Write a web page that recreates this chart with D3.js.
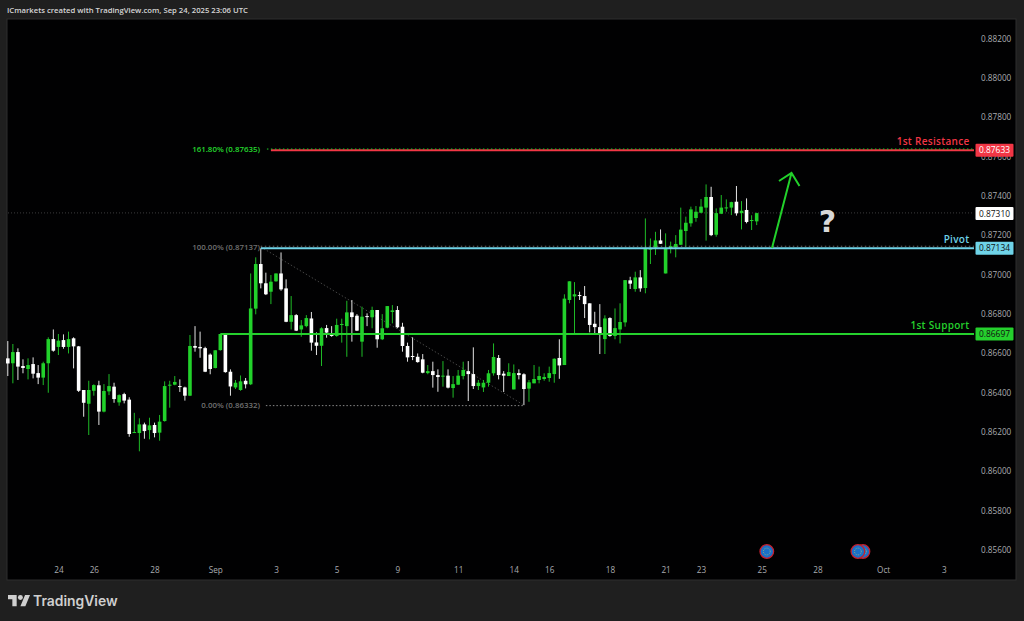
<!DOCTYPE html>
<html>
<head>
<meta charset="utf-8">
<script src="https://cdn.jsdelivr.net/npm/d3@7"></script>
<style>
  html, body { margin: 0; padding: 0; background: #1f1f1f; overflow: hidden; }
  text { font-family: "Open Sans", Roboto, sans-serif; }
</style>
</head>
<body>
<div id="chart"></div>
<script>
// candles, one per 4 hours, oldest first
var opens = [0.86570,0.86545,0.86602,0.86531,0.86516,0.86541,0.86495,0.86472,0.86545,0.86668,
  0.86628,0.86663,0.86628,0.86672,0.86631,0.86409,0.86339,0.86405,0.86433,0.86299,
  0.86402,0.86426,0.86346,0.86388,0.86360,0.86192,0.86190,0.86234,0.86205,0.86231,
  0.86192,0.86251,0.86431,0.86436,0.86429,0.86422,0.86380,0.86633,0.86628,0.86622,
  0.86589,0.86521,0.86612,0.86692,0.86502,0.86422,0.86409,0.86456,0.86438,0.86823,
  0.87050,0.86952,0.86909,0.86962,0.87002,0.86926,0.86756,0.86790,0.86717,0.86734,
  0.86773,0.86651,0.86634,0.86724,0.86695,0.86684,0.86741,0.86734,0.86804,0.86787,
  0.86655,0.86785,0.86779,0.86816,0.86667,0.86726,0.86806,0.86816,0.86731,0.86633,
  0.86582,0.86578,0.86565,0.86495,0.86505,0.86485,0.86477,0.86482,0.86419,0.86436,
  0.86480,0.86505,0.86490,0.86429,0.86422,0.86446,0.86494,0.86572,0.86492,0.86480,
  0.86412,0.86495,0.86489,0.86416,0.86443,0.86460,0.86465,0.86470,0.86490,0.86572,
  0.86536,0.86867,0.86885,0.86892,0.86887,0.86850,0.86746,0.86729,0.86668,0.86775,
  0.86684,0.86717,0.86753,0.86967,0.86923,0.86982,0.86928,0.87125,0.87133,0.87170,
  0.87002,0.87128,0.87135,0.87148,0.87218,0.87257,0.87284,0.87311,0.87337,0.87391,
  0.87199,0.87306,0.87335,0.87337,0.87367,0.87309,0.87325,0.87270,0.87267];
var highs = [0.86658,0.86643,0.86621,0.86565,0.86570,0.86575,0.86536,0.86553,0.86677,0.86717,
  0.86694,0.86692,0.86706,0.86677,0.86633,0.86409,0.86456,0.86438,0.86456,0.86439,
  0.86490,0.86446,0.86387,0.86395,0.86372,0.86293,0.86265,0.86243,0.86268,0.86243,
  0.86282,0.86453,0.86456,0.86480,0.86463,0.86426,0.86689,0.86734,0.86706,0.86629,
  0.86595,0.86612,0.86694,0.86692,0.86514,0.86460,0.86483,0.86470,0.87002,0.87084,
  0.87130,0.87006,0.86994,0.87002,0.87109,0.86972,0.86887,0.86795,0.86765,0.86790,
  0.86806,0.86702,0.86728,0.86740,0.86734,0.86772,0.86772,0.86863,0.86867,0.86795,
  0.86833,0.86799,0.86833,0.86816,0.86795,0.86836,0.86841,0.86836,0.86751,0.86650,
  0.86677,0.86595,0.86592,0.86536,0.86553,0.86514,0.86556,0.86514,0.86480,0.86511,
  0.86553,0.86556,0.86626,0.86460,0.86460,0.86511,0.86646,0.86587,0.86505,0.86545,
  0.86539,0.86514,0.86494,0.86460,0.86536,0.86528,0.86494,0.86528,0.86570,0.86667,
  0.86896,0.86962,0.86958,0.86909,0.86938,0.86850,0.86807,0.86846,0.86789,0.86779,
  0.86824,0.86850,0.86968,0.86985,0.87011,0.87019,0.87282,0.87180,0.87214,0.87226,
  0.87206,0.87164,0.87197,0.87337,0.87291,0.87342,0.87345,0.87381,0.87455,0.87443,
  0.87333,0.87401,0.87379,0.87367,0.87447,0.87370,0.87384,0.87298,0.87311];
var lows = [0.86480,0.86443,0.86460,0.86494,0.86463,0.86468,0.86439,0.86434,0.86395,0.86604,
  0.86587,0.86619,0.86595,0.86519,0.86399,0.86273,0.86180,0.86380,0.86231,0.86295,
  0.86383,0.86344,0.86329,0.86341,0.86171,0.86190,0.86097,0.86161,0.86158,0.86168,
  0.86151,0.86248,0.86319,0.86433,0.86399,0.86355,0.86378,0.86604,0.86573,0.86500,
  0.86489,0.86519,0.86609,0.86497,0.86380,0.86414,0.86405,0.86417,0.86434,0.86794,
  0.86926,0.86892,0.86846,0.86960,0.86914,0.86754,0.86717,0.86709,0.86680,0.86728,
  0.86609,0.86587,0.86531,0.86675,0.86680,0.86680,0.86650,0.86578,0.86655,0.86709,
  0.86578,0.86734,0.86723,0.86624,0.86663,0.86723,0.86748,0.86723,0.86604,0.86553,
  0.86561,0.86548,0.86494,0.86489,0.86421,0.86400,0.86426,0.86417,0.86370,0.86434,
  0.86463,0.86353,0.86414,0.86409,0.86399,0.86426,0.86482,0.86463,0.86399,0.86480,
  0.86412,0.86463,0.86332,0.86349,0.86443,0.86443,0.86456,0.86451,0.86446,0.86466,
  0.86536,0.86850,0.86694,0.86867,0.86775,0.86702,0.86689,0.86592,0.86592,0.86680,
  0.86667,0.86646,0.86731,0.86923,0.86909,0.86909,0.86901,0.87050,0.87096,0.87152,
  0.87002,0.87104,0.87084,0.87147,0.87138,0.87240,0.87265,0.87308,0.87169,0.87192,
  0.87189,0.87304,0.87316,0.87299,0.87296,0.87226,0.87257,0.87223,0.87248];
var closes = [0.86544,0.86602,0.86528,0.86521,0.86536,0.86492,0.86472,0.86545,0.86668,0.86609,
  0.86660,0.86628,0.86668,0.86631,0.86405,0.86344,0.86409,0.86434,0.86299,0.86404,
  0.86429,0.86363,0.86383,0.86355,0.86185,0.86195,0.86234,0.86200,0.86229,0.86190,
  0.86248,0.86429,0.86436,0.86450,0.86424,0.86380,0.86633,0.86624,0.86621,0.86502,
  0.86516,0.86611,0.86694,0.86500,0.86427,0.86446,0.86453,0.86438,0.86824,0.87050,
  0.86952,0.86896,0.86960,0.87002,0.86921,0.86756,0.86790,0.86711,0.86738,0.86775,
  0.86650,0.86634,0.86723,0.86701,0.86684,0.86740,0.86745,0.86804,0.86780,0.86711,
  0.86782,0.86780,0.86816,0.86667,0.86723,0.86836,0.86814,0.86728,0.86633,0.86575,
  0.86577,0.86551,0.86497,0.86505,0.86485,0.86475,0.86482,0.86421,0.86439,0.86482,
  0.86511,0.86490,0.86429,0.86446,0.86446,0.86494,0.86577,0.86485,0.86482,0.86500,
  0.86495,0.86485,0.86414,0.86448,0.86465,0.86480,0.86475,0.86495,0.86568,0.86534,
  0.86874,0.86962,0.86896,0.86889,0.86846,0.86740,0.86729,0.86695,0.86773,0.86684,
  0.86724,0.86755,0.86968,0.86950,0.86982,0.86926,0.87128,0.87128,0.87170,0.87153,
  0.87128,0.87141,0.87152,0.87225,0.87260,0.87328,0.87316,0.87342,0.87391,0.87197,
  0.87309,0.87337,0.87338,0.87365,0.87308,0.87321,0.87264,0.87274,0.87309];

// price and time axis labels
var priceTicks = [0.882,0.880,0.878,0.876,0.874,0.872,0.870,0.868,0.866,0.864,0.862,0.860,0.858,0.856];
var timeTickBars = [10,17,29,41,53,65,77,89,100,107,119,130,137,149,160,173,185];
var timeTickLabels = ["24","26","28","Sep","3","5","9","11","14","16","18","21","23","25","28","Oct","3"];

// drawn levels
var levelNames = ["1st Resistance","Pivot","1st Support"];
var levelPrices = [0.87633,0.87134,0.86697];
var levelStarts = [52,50,42];
var levelColors = ["#f23645","#6fd3e8","#25d02d"];

var fibLabels = ["161.80% (0.87635)","100.00% (0.87137)","0.00% (0.86332)"];
var fibPrices = [0.87635,0.87137,0.86332];
var lastPrice = 0.87310;
var eventBars = [150,169,168];

var width = 1024, height = 621;
var panel = {left: 7, right: 1016, top: 19, bottom: 580};
var plotRight = 974;
var lineNudge = 0.7; // levels and labels sit a touch below the candle scale
var green = "#22d12b";

var x = d3.scaleLinear().domain([0,185]).range([7.8,943.9]);
var y = d3.scaleLinear().domain([0.882,0.856]).range([38,549]);

var svg = d3.select("#chart").append("svg")
    .attr("width", width)
    .attr("height", height)
    .style("display", "block");

svg.append("rect")
    .attr("width", width).attr("height", height)
    .attr("fill", "#1f1f1f");

svg.append("rect")
    .attr("x", panel.left).attr("y", panel.top)
    .attr("width", panel.right - panel.left)
    .attr("height", panel.bottom - panel.top)
    .attr("fill", "#010102")
    .attr("stroke", "#2e2e2e");

svg.append("text")
    .attr("x", 7).attr("y", 13)
    .attr("fill", "#d6d6d6")
    .style("font-size", "7.7px")
    .style("font-weight", 600)
    .text("ICmarkets created with TradingView.com, Sep 24, 2025 23:06 UTC");

// axes
var yAxis = svg.append("g")
    .attr("transform", "translate(981," + lineNudge + ")")
    .call(d3.axisRight(y).tickValues(priceTicks).tickFormat(d3.format(".5f")).tickSize(0).tickPadding(0));
var xAxis = svg.append("g")
    .attr("transform", "translate(0,567)")
    .call(d3.axisBottom(x).tickValues(timeTickBars)
        .tickFormat(function(d, i) { return timeTickLabels[i]; }).tickSize(0).tickPadding(0));
[yAxis, xAxis].forEach(function(a) {
    a.select(".domain").remove();
    a.selectAll("text")
        .attr("fill", "#a9abb0")
        .style("font-family", "'Open Sans', sans-serif")
        .style("font-size", "8.2px");
});

// last price dotted line
svg.append("line")
    .attr("x1", panel.left + 1).attr("x2", plotRight)
    .attr("y1", y(lastPrice)).attr("y2", y(lastPrice))
    .attr("stroke", "#555")
    .attr("stroke-width", 0.7)
    .attr("stroke-dasharray", "1,2");

// fib tool, behind the candles
svg.append("line")
    .attr("x1", x(50)).attr("y1", y(fibPrices[1]))
    .attr("x2", x(102)).attr("y2", y(fibPrices[2]))
    .attr("stroke", "#555")
    .attr("stroke-width", 0.8)
    .attr("stroke-dasharray", "1.5,2");
svg.append("line")
    .attr("x1", x(51)).attr("x2", x(102))
    .attr("y1", y(fibPrices[2]) + 0.5).attr("y2", y(fibPrices[2]) + 0.5)
    .attr("stroke", "#888")
    .attr("stroke-dasharray", "1.5,2");

svg.selectAll(".fib-label")
    .data(fibLabels)
    .enter().append("text")
    .attr("class", "fib-label")
    .attr("x", 260)
    .attr("y", function(d, i) { return y(fibPrices[i]) + 3.2; })
    .attr("text-anchor", "end")
    .attr("fill", function(d, i) { return i == 0 ? "#25d92e" : "#707070"; })
    .style("font-size", "7.9px")
    .style("font-weight", 600)
    .text(function(d) { return d; });

// candles
var bars = d3.range(opens.length);
var candle = function(i) { return closes[i] >= opens[i] ? green : "#ffffff"; };

svg.append("g").selectAll("line")
    .data(bars)
    .enter().append("line")
    .attr("x1", function(i) { return x(i); })
    .attr("x2", function(i) { return x(i); })
    .attr("y1", function(i) { return y(highs[i]); })
    .attr("y2", function(i) { return y(lows[i]); })
    .attr("stroke", candle)
    .attr("stroke-width", 0.9);

svg.append("g").selectAll("rect")
    .data(bars)
    .enter().append("rect")
    .attr("x", function(i) { return x(i) - 1.8; })
    .attr("width", 3.6)
    .attr("y", function(i) { return y(Math.max(opens[i], closes[i])); })
    .attr("height", function(i) { return Math.max(1, Math.abs(y(opens[i]) - y(closes[i]))); })
    .attr("fill", candle);

// levels over the candles
svg.append("g").selectAll("line")
    .data(levelPrices)
    .enter().append("line")
    .attr("x1", function(d, i) { return x(levelStarts[i]); })
    .attr("x2", plotRight)
    .attr("y1", function(d) { return y(d) + lineNudge; })
    .attr("y2", function(d) { return y(d) + lineNudge; })
    .attr("stroke", function(d, i) { return levelColors[i]; })
    .attr("stroke-width", 2);

// fib dots sitting on the red and blue levels
svg.append("line")
    .attr("x1", x(52) - 4).attr("x2", plotRight)
    .attr("y1", y(fibPrices[0])).attr("y2", y(fibPrices[0]))
    .attr("stroke", green)
    .attr("stroke-width", 1)
    .attr("stroke-dasharray", "1.5,2.5");
svg.append("line")
    .attr("x1", x(50)).attr("x2", plotRight)
    .attr("y1", y(fibPrices[1]) - 0.7).attr("y2", y(fibPrices[1]) - 0.7)
    .attr("stroke", "#888")
    .attr("stroke-width", 0.8)
    .attr("stroke-dasharray", "1.5,2.5");

svg.selectAll(".level-name")
    .data(levelNames)
    .enter().append("text")
    .attr("class", "level-name")
    .attr("x", 969.5)
    .attr("y", function(d, i) { return y(levelPrices[i]) - 4.5; })
    .attr("text-anchor", "end")
    .attr("fill", function(d, i) { return levelColors[i]; })
    .style("font-size", "10px")
    .style("font-weight", 600)
    .style("letter-spacing", "0.3px")
    .text(function(d) { return d; });

// price tags on the axis
var tagPrices = levelPrices.concat([lastPrice]);
var tagColors = levelColors.concat(["#ffffff"]);
var tags = svg.append("g").selectAll("g")
    .data(tagPrices)
    .enter().append("g")
    .attr("transform", function(d) { return "translate(975.5," + (y(d) + lineNudge) + ")"; });
tags.append("rect")
    .attr("y", -6.5).attr("width", 38).attr("height", 13).attr("rx", 1)
    .attr("fill", function(d, i) { return tagColors[i]; });
tags.append("text")
    .attr("x", 19).attr("y", 3)
    .attr("text-anchor", "middle")
    .attr("fill", function(d, i) { return i == 0 ? "#ffffff" : "#111"; })
    .style("font-size", "8.4px")
    .text(function(d) { return d3.format(".5f")(d); });

// arrow and question mark
svg.append("path")
    .attr("d", "M772,248L791.5,173M779,181L791.5,173L799.5,186")
    .attr("fill", "none")
    .attr("stroke", green)
    .attr("stroke-width", 2);
svg.append("text")
    .attr("x", 827.5).attr("y", 232)
    .attr("text-anchor", "middle")
    .attr("fill", "#d8d8d8")
    .style("font-family", "'DejaVu Sans', sans-serif")
    .style("font-size", "30px")
    .style("font-weight", 700)
    .text("?");

// economic event markers under the candles
var events = svg.append("g").selectAll("g")
    .data(eventBars)
    .enter().append("g")
    .attr("transform", function(d) { return "translate(" + x(d) + ",551.5)"; });
events.append("circle")
    .attr("r", 6.8)
    .attr("fill", "#1b70c8")
    .attr("stroke", "#c4202f")
    .attr("stroke-width", 1.3);
events.append("circle")
    .attr("r", 3.4)
    .attr("fill", "none")
    .attr("stroke", "#c9c85a")
    .attr("stroke-width", 0.8)
    .attr("stroke-dasharray", "0.9,1.3");

// logo
var logo = svg.append("g")
    .attr("transform", "translate(8,592.5) scale(0.62)")
    .attr("fill", "#cfcfcf");
logo.append("path").attr("d", "M14 22H7V11H0V4h14v18zM28 22h-8l7.5-18h8L28 22z");
logo.append("circle").attr("cx", 20).attr("cy", 8).attr("r", 4);

svg.append("text")
    .attr("x", 33).attr("y", 605.5)
    .attr("fill", "#cfcfcf")
    .style("font-family", "Inter, sans-serif")
    .style("font-size", "13.9px")
    .style("font-weight", 600)
    .text("TradingView");
</script>
</body>
</html>
